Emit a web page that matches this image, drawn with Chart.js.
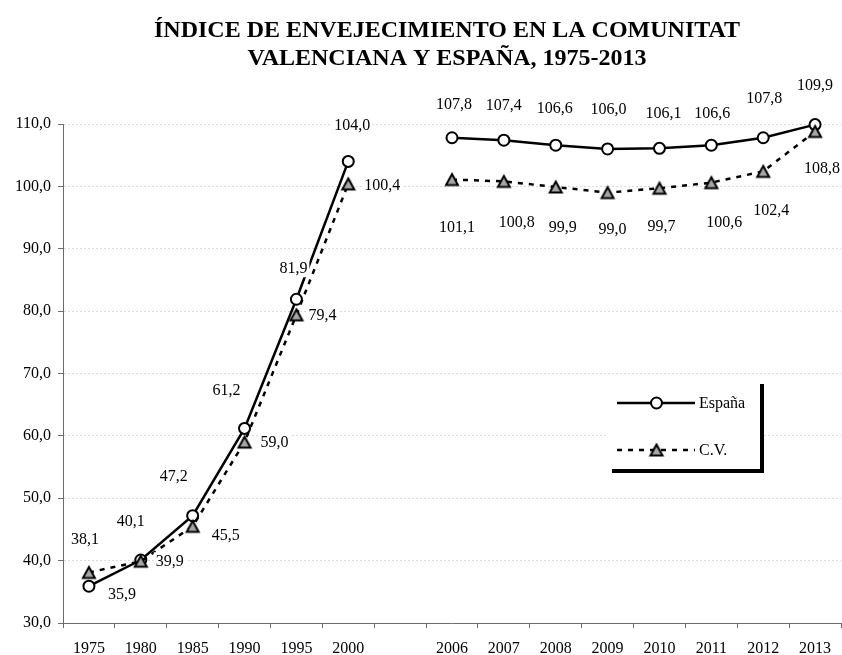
<!DOCTYPE html>
<html>
<head>
<meta charset="utf-8">
<script src="https://cdn.jsdelivr.net/npm/chart.js@4"></script>
<style>
  body { margin: 0; background: #fff; }
  #wrap { width: 842px; height: 655px; }
</style>
</head>
<body>
<div id="wrap"><canvas id="graphic" width="842" height="655"></canvas></div>
<script>
const titleLines = ['ÍNDICE DE ENVEJECIMIENTO EN LA COMUNITAT', 'VALENCIANA Y ESPAÑA, 1975-2013'];

// categorias (hueco vacio entre 2000 y 2006)
const years = ['1975', '1980', '1985', '1990', '1995', '2000', '', '2006', '2007', '2008', '2009', '2010', '2011', '2012', '2013'];
const espana = [35.9, 40.1, 47.2, 61.2, 81.9, 104.0, null, 107.8, 107.4, 106.6, 106.0, 106.1, 106.6, 107.8, 109.9];
const cv = [38.1, 39.9, 45.5, 59.0, 79.4, 100.4, null, 101.1, 100.8, 99.9, 99.0, 99.7, 100.6, 102.4, 108.8];

const yMin = 30;
const yMax = 110;
const yStep = 10;

// desplazamiento de cada etiqueta respecto a su punto (px)
const espanaLabelDx = [33, -10, -19, -18, -3, 4, 0, 2, 0, -1, 1, 4, 1, 1, 0];
const espanaLabelDy = [8, -39, -40, -39, -31, -37, 0, -34, -35, -37, -40, -36, -32, -40, -40];
const cvLabelDx = [-4, 29, 33, 30, 26, 34, 0, 5, 13, 7, 5, 2, 13, 8, 7];
const cvLabelDy = [-34, 0, 8, 0, 0, 1, 0, 47, 40, 40, 36, 38, 39, 38, 36];

const fmt = v => v.toFixed(1).replace('.', ',');

Chart.defaults.font.family = '"Liberation Serif", "DejaVu Serif", serif';
Chart.defaults.font.size = 16;
Chart.defaults.color = '#000';

/* triangulo gris con borde negro, centrado en su caja */
function makeTriangle() {
    const c = document.createElement('canvas');
    c.width = 18;
    c.height = 18;
    const g = c.getContext('2d');
    g.beginPath();
    g.moveTo(9, 3.5);
    g.lineTo(15, 14.5);
    g.lineTo(3, 14.5);
    g.closePath();
    g.fillStyle = '#a6a6a6';
    g.fill();
    g.lineWidth = 2;
    g.strokeStyle = '#000';
    g.stroke();
    return c;
}
const triangle = makeTriangle();

const titlePlugin = {
    id: 'titleText',
    afterDraw(chart) {
        const ctx = chart.ctx;
        const area = chart.chartArea;
        const x = (area.left + area.right) / 2 - 5;
        ctx.save();
        ctx.font = 'bold 24px "Liberation Serif", serif';
        ctx.fillStyle = '#000';
        ctx.textAlign = 'center';
        ctx.textBaseline = 'alphabetic';
        ctx.fillText(titleLines[0], x, 37);
        ctx.fillText(titleLines[1], x, 65);
        ctx.restore();
    }
};

const labelPlugin = {
    id: 'valueLabels',
    afterDatasetsDraw(chart) {
        const ctx = chart.ctx;
        const offsets = [[espanaLabelDx, espanaLabelDy], [cvLabelDx, cvLabelDy]];
        ctx.save();
        ctx.font = '16px "Liberation Serif", serif';
        ctx.textAlign = 'center';
        ctx.textBaseline = 'middle';
        chart.data.datasets.forEach((ds, di) => {
            const meta = chart.getDatasetMeta(di);
            ds.data.forEach((v, i) => {
                if (v === null) return;
                const pt = meta.data[i];
                const x = pt.x + offsets[di][0][i];
                const y = pt.y + offsets[di][1][i];
                const txt = fmt(v);
                const w = ctx.measureText(txt).width + 4;
                ctx.fillStyle = '#fff';
                ctx.fillRect(x - w / 2, y - 9, w, 18);
                ctx.fillStyle = '#000';
                ctx.fillText(txt, x, y + 1);
            });
        });
        ctx.restore();
    }
};

const legendPlugin = {
    id: 'boxLegend',
    afterDraw(chart) {
        const ctx = chart.ctx;
        const bx = 607, by = 379, bw = 153, bh = 90, sh = 4;
        ctx.save();
        // sombra y caja
        ctx.fillStyle = '#000';
        ctx.fillRect(bx + 5, by + 5, bw + sh - 5, bh + sh - 5);
        ctx.fillStyle = '#fff';
        ctx.fillRect(bx, by, bw, bh);

        const rows = [by + 24, by + 71];
        chart.data.datasets.forEach((ds, i) => {
            const y = rows[i];
            ctx.strokeStyle = '#000';
            ctx.lineWidth = 2.5;
            ctx.setLineDash(ds.borderDash || []);
            ctx.beginPath();
            ctx.moveTo(617, y);
            ctx.lineTo(695, y);
            ctx.stroke();
            ctx.setLineDash([]);
            if (ds.pointStyle === 'circle') {
                ctx.beginPath();
                ctx.arc(656.5, y, 5.5, 0, Math.PI * 2);
                ctx.fillStyle = '#fff';
                ctx.fill();
                ctx.lineWidth = 2;
                ctx.stroke();
            } else {
                ctx.drawImage(triangle, 656.5 - 9, y - 9);
            }
            ctx.fillStyle = '#000';
            ctx.font = '16px "Liberation Serif", serif';
            ctx.textAlign = 'left';
            ctx.textBaseline = 'middle';
            ctx.fillText(ds.label, 699, y + 1);
        });
        ctx.restore();
    }
};

const data = {
    labels: years,
    datasets: [{
        label: 'España',
        data: espana,
        borderColor: '#000',
        borderWidth: 2.5,
        pointStyle: 'circle',
        pointRadius: 5.5,
        pointBorderWidth: 2,
        pointBackgroundColor: '#fff',
        pointBorderColor: '#000',
        tension: 0,
        spanGaps: false,
        clip: false,
        order: 1
    }, {
        label: 'C.V.',
        data: cv,
        borderColor: '#000',
        borderWidth: 2.5,
        borderDash: [5, 6],
        pointStyle: triangle,
        pointRadius: 7,
        tension: 0,
        spanGaps: false,
        clip: false,
        order: 0
    }]
};

const axisColor = '#6d6d6d';

const config = {
    type: 'line',
    data: data,
    options: {
        responsive: false,
        animation: false,
        layout: { autoPadding: false, padding: { top: 124, right: 1, left: 0, bottom: 0 } },
        plugins: {
            legend: { display: false },
            title: { display: false },
            tooltip: { enabled: false }
        },
        scales: {
            x: {
                offset: true,
                grid: {
                    offset: true,
                    drawOnChartArea: false,
                    drawTicks: true,
                    tickLength: 5,
                    tickColor: axisColor,
                    tickWidth: 1
                },
                border: { color: axisColor, width: 1 },
                ticks: { padding: 11, maxRotation: 0, autoSkip: false, font: { size: 16 } },
                afterFit(scale) {
                    scale.height = 32;
                    scale.paddingLeft = 0;
                    scale.paddingRight = 0;
                }
            },
            y: {
                min: yMin,
                max: yMax,
                grid: {
                    color: '#d9d9d9',
                    lineWidth: 1,
                    tickLength: 5,
                    tickColor: axisColor,
                    tickWidth: 1
                },
                border: { color: axisColor, width: 1, dash: [2, 2] },
                ticks: {
                    stepSize: yStep,
                    padding: 7,
                    font: { size: 16 },
                    callback: v => fmt(v)
                },
                afterFit(scale) { scale.width = 63; }
            }
        }
    },
    plugins: [labelPlugin, titlePlugin, legendPlugin]
};

new Chart(document.querySelector('#graphic'), config);
</script>
</body>
</html>
